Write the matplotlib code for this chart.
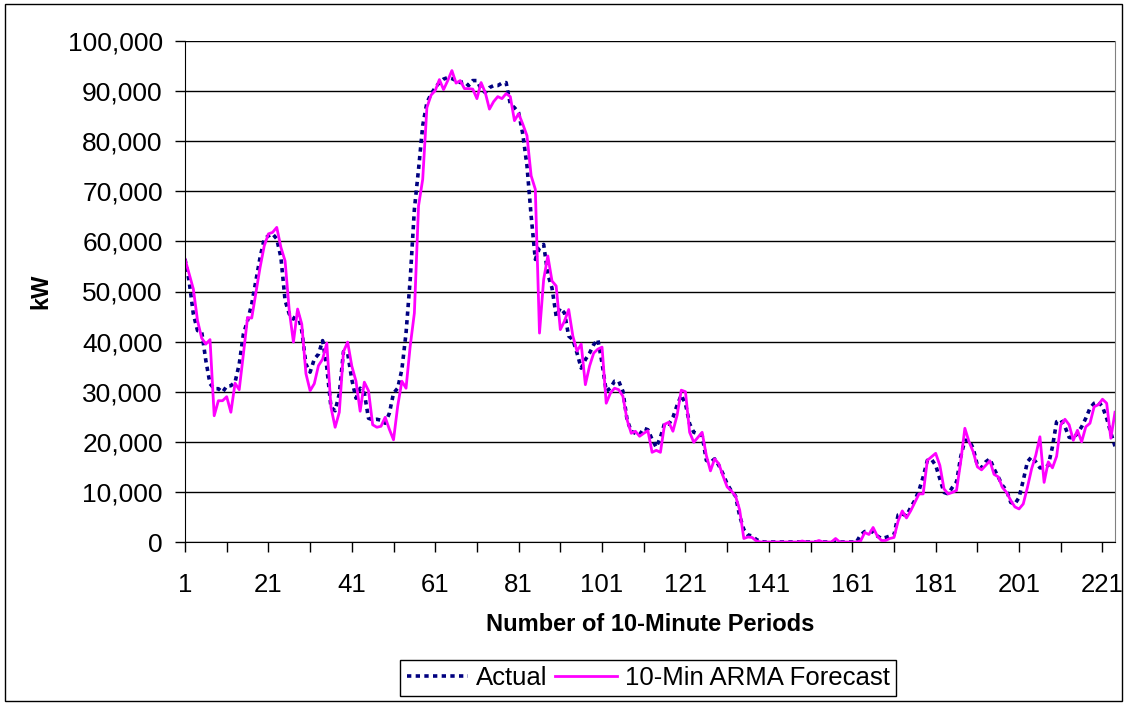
import numpy as np
import matplotlib
matplotlib.use("Agg")
import matplotlib.pyplot as plt
from matplotlib.patches import Rectangle

# kW values (thousands), one per 10-minute period
actual_k = [
    56.5, 52.0, 45.5, 42.2, 42.0, 36.2, 31.6, 30.6, 30.6, 29.9,
    31.1, 31.2, 31.9, 35.5, 41.5, 44.2, 47.5, 52.2, 56.8, 60.5,
    61.1, 61.5, 60.5, 56.8, 48.2, 45.5, 44.5, 45.8, 42.2, 35.5,
    33.9, 36.5, 37.5, 40.2, 34.9, 26.9, 26.2, 29.6, 38.0, 37.7,
    32.4, 28.7, 30.7, 29.7, 24.7, 24.4, 24.5, 24.3, 23.7, 25.7,
    29.7, 30.7, 34.4, 41.7, 52.4, 66.4, 74.4, 83.1, 87.7, 89.4,
    90.7, 91.7, 92.4, 92.7, 92.5, 92.1, 91.7, 91.9, 91.1, 92.1,
    92.1, 90.4, 89.7, 90.7, 91.1, 91.1, 91.6, 91.7, 87.4, 86.7,
    85.7, 81.4, 75.1, 65.1, 56.4, 58.7, 59.4, 53.4, 50.7, 45.1,
    46.7, 45.7, 41.1, 40.4, 37.7, 34.7, 36.4, 37.7, 39.4, 40.4,
    35.7, 30.1, 30.7, 32.1, 32.1, 30.1, 24.4, 22.1, 21.7, 21.4,
    22.7, 22.4, 20.5, 18.9, 20.9, 23.7, 23.5, 24.9, 27.3, 29.3,
    27.6, 23.6, 21.9, 21.6, 21.3, 16.3, 15.9, 16.6, 15.3, 13.6,
    11.6, 10.2, 9.2, 5.2, 2.5, 1.4, 1.2, 0.5, 0.1, 0.0,
    0.0, 0.0, 0.0, 0.0, 0.0, 0.0, 0.0, 0.0, 0.0, 0.0,
    0.0, 0.0, 0.0, 0.0, 0.0, 0.0, 0.0, 0.0, 0.0, 0.0,
    0.0, 0.0, 1.4, 2.1, 2.1, 2.0, 1.2, 0.7, 0.9, 1.2,
    1.4, 5.4, 5.6, 5.2, 6.9, 8.3, 10.3, 13.0, 16.3, 16.5,
    15.3, 12.6, 9.9, 9.6, 10.9, 12.0, 17.0, 20.3, 20.3, 18.7,
    15.3, 14.8, 16.0, 16.6, 14.6, 13.0, 11.3, 10.3, 7.9, 7.6,
    8.9, 12.3, 16.0, 17.0, 16.0, 14.8, 14.8, 15.3, 19.0, 24.0,
    24.4, 23.0, 20.9, 20.7, 21.7, 23.0, 24.7, 26.7, 27.7, 28.0,
    27.0, 24.7, 21.8, 19.1,
]

forecast_k = [
    56.5, 53.5, 50.5, 44.2, 40.7, 39.5, 40.4, 25.2, 28.2, 28.2,
    29.0, 25.9, 31.7, 30.4, 37.5, 44.8, 44.7, 49.8, 54.8, 59.1,
    61.5, 61.8, 62.8, 58.8, 56.1, 46.2, 39.9, 46.5, 43.5, 33.6,
    30.2, 31.6, 35.2, 36.5, 39.7, 26.9, 22.9, 25.9, 38.0, 39.9,
    35.1, 32.1, 26.1, 31.9, 30.2, 23.4, 22.9, 23.1, 24.9, 22.5,
    20.4, 27.1, 32.1, 30.7, 39.1, 45.7, 67.1, 72.4, 86.7, 89.2,
    90.1, 92.3, 90.3, 92.1, 94.1, 91.6, 92.1, 90.5, 90.5, 90.4,
    88.5, 91.7, 89.7, 86.4, 87.9, 88.9, 88.5, 89.5, 88.9, 84.1,
    85.5, 83.4, 81.1, 73.1, 70.4, 41.7, 52.4, 57.1, 52.1, 51.1,
    42.4, 44.1, 46.4, 41.1, 38.1, 39.5, 31.4, 35.1, 37.7, 38.5,
    38.9, 27.7, 29.7, 30.7, 30.4, 29.1, 24.4, 21.7, 22.1, 21.1,
    21.7, 22.2, 17.9, 18.3, 17.9, 23.5, 23.9, 22.1, 25.3, 30.3,
    30.0, 21.9, 19.9, 20.9, 21.9, 17.3, 14.2, 16.6, 15.6, 13.2,
    11.0, 10.2, 9.2, 6.4, 0.7, 1.0, 0.9, 0.2, 0.0, 0.0,
    0.0, 0.0, 0.0, 0.0, 0.0, 0.0, 0.0, 0.0, 0.2, 0.0,
    0.0, 0.0, 0.3, 0.0, 0.0, 0.0, 0.7, 0.0, 0.0, 0.0,
    0.0, 0.0, 0.2, 1.9, 1.5, 2.9, 1.2, 0.3, 0.3, 0.7,
    0.9, 4.2, 6.2, 4.8, 6.2, 7.9, 9.6, 9.6, 16.3, 17.0,
    17.7, 15.3, 10.6, 9.6, 9.9, 10.3, 16.0, 22.7, 20.0, 18.0,
    15.0, 14.4, 15.3, 16.2, 13.5, 13.0, 10.9, 9.9, 8.3, 7.0,
    6.6, 7.6, 10.9, 14.6, 17.3, 21.0, 11.9, 16.0, 14.8, 17.1,
    23.4, 24.5, 23.4, 20.3, 22.3, 20.0, 23.0, 23.7, 27.0, 27.4,
    28.5, 27.7, 20.7, 25.9,
]

actual = np.array(actual_k) * 1000
forecast = np.array(forecast_k) * 1000
periods = np.arange(1, len(actual) + 1)

plt.rcParams['font.family'] = ['Liberation Sans', 'DejaVu Sans']

fig = plt.figure(figsize=(11.28, 7.03), dpi=100)
ax = fig.add_axes([185 / 1128, 1 - 542 / 703, 930 / 1128, 501 / 703])

ax.plot(periods, actual, color='#000080', lw=2.6, linestyle=(0, (1.2, 1.2)),
        label='Actual')
ax.plot(periods, forecast, color='#FF00FF', lw=2.0, label='10-Min ARMA Forecast')

ax.set_xlim(1, len(periods))
ax.set_ylim(0, 100000)
ax.set_yticks(np.arange(0, 100001, 10000))
ax.set_yticklabels([f"{v:,}" for v in range(0, 100001, 10000)], fontsize=19)
ax.set_xticks(np.arange(1, len(periods) + 1, 10))
ax.set_xticklabels([str(v) if (v - 1) % 20 == 0 else '' for v in range(1, len(periods) + 1, 10)],
                   fontsize=18.5)
ax.tick_params(axis='x', direction='out', length=7, width=1, pad=15)
ax.tick_params(axis='y', direction='out', length=7, width=1, pad=9)

ax.grid(axis='y', color='black', lw=1)
ax.set_axisbelow(True)
ax.spines['top'].set_visible(False)
ax.spines['right'].set_color('#808080')
ax.spines['left'].set_color('black')
ax.spines['bottom'].set_color('black')

ax.set_xlabel('Number of 10-Minute Periods', fontsize=17, fontweight='bold', labelpad=12)
ax.set_ylabel('kW', fontsize=17, fontweight='bold', labelpad=11)

fig.legend(loc='center', bbox_to_anchor=(648 / 1128, 1 - 678 / 703), ncol=2,
           fontsize=18.5, frameon=True, fancybox=False, edgecolor='black',
           handlelength=2.4, columnspacing=0.3, handletextpad=0.3,
           borderpad=0.25, framealpha=1)

fig.patches.append(Rectangle((5 / 1128, 2 / 703), 1117 / 1128, 697 / 703,
                             transform=fig.transFigure, fill=False,
                             edgecolor='black', lw=1))

fig.savefig('out.png', dpi=100)
